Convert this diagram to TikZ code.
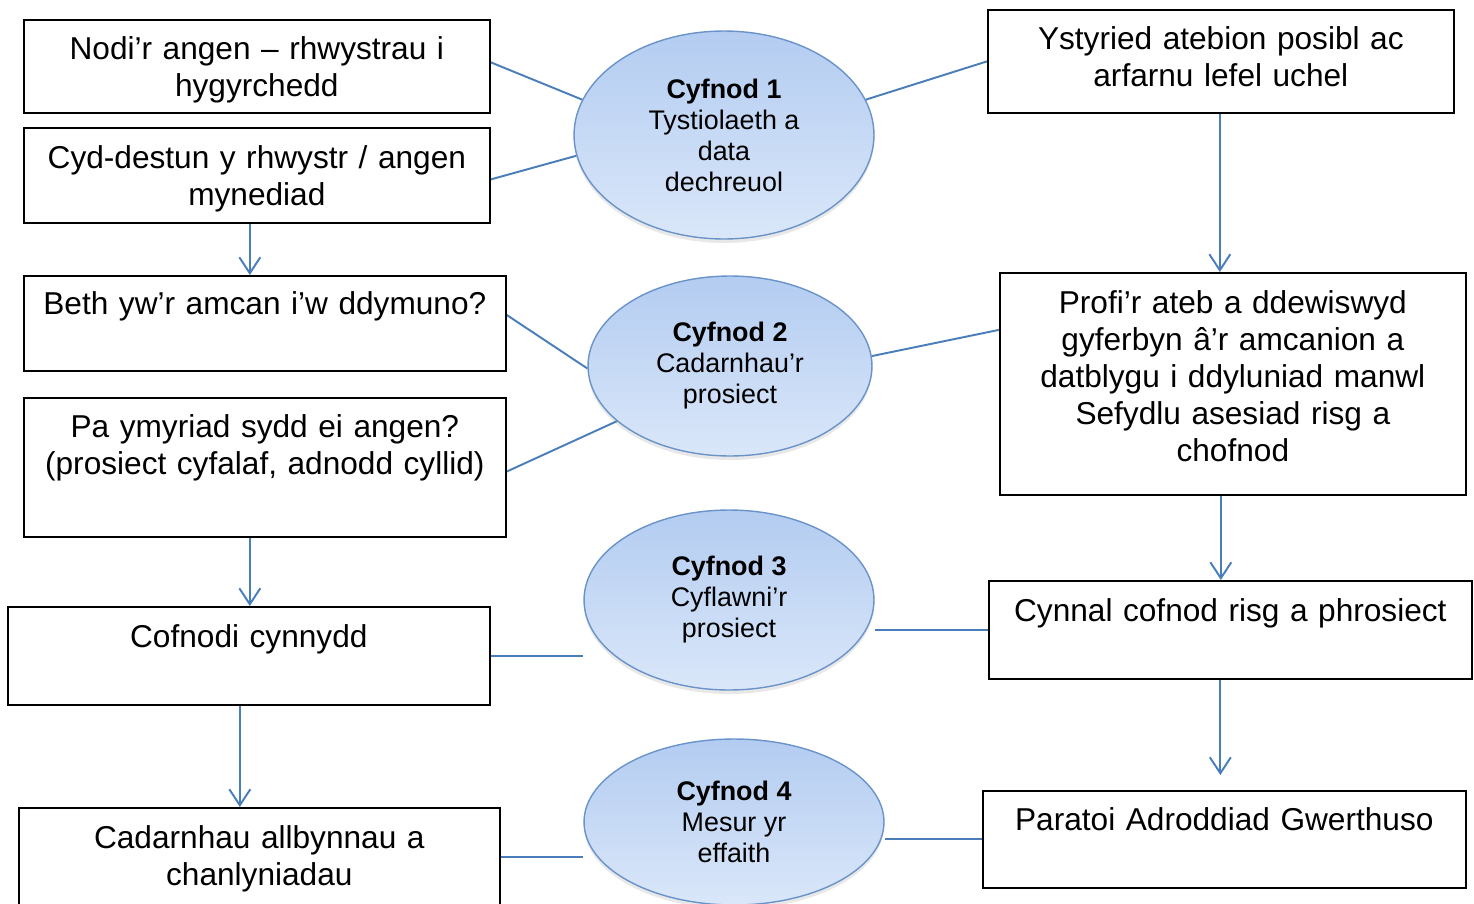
\documentclass[tikz,border=0pt]{standalone}
\usepackage{fontspec}
\setmainfont{Liberation Sans}
\usetikzlibrary{positioning,shapes.geometric,arrows.meta,shadows,backgrounds}
\definecolor{linkblue}{HTML}{4A7EBB}
\definecolor{ovalline}{HTML}{6A93C9}
\definecolor{ovaltop}{HTML}{B3CCF1}
\definecolor{ovalbot}{HTML}{DAE7F9}

\begin{document}
\begin{tikzpicture}[x=0.02cm, y=-0.02cm,
    box/.style={draw, line width=1pt, inner sep=0pt, anchor=north west, align=center, font=\fontsize{18}{21.06}\selectfont},
    stage/.style={ellipse, draw=ovalline, line width=0.8pt, top color=ovaltop, bottom color=ovalbot, inner sep=0pt, align=center, font=\fontsize{15.3}{17.64}\selectfont, drop shadow={opacity=0.18, shadow xshift=0pt, shadow yshift=-0.08cm}},
    link/.style={linkblue, line width=1.1pt},
    flow/.style={link, -{Straight Barb[length=0.32cm, width=0.42cm]}}]

        \useasboundingbox (0,0) rectangle (1474,903);

        %Boxes left
        \node[box, text width=9.32cm, text height=0.80cm, text depth=1.06cm] (n1) at (23,19) {Nodi’r angen – rhwystrau i\\hygyrchedd};
        \node[box, text width=9.32cm, text height=0.82cm, text depth=1.08cm] (n2) at (23,127) {Cyd-destun y rhwystr / angen\\mynediad};
        \node[box, text width=9.64cm, text height=0.78cm, text depth=1.12cm] (n3) at (23,275) {Beth yw’r amcan i’w ddymuno?};
        \node[box, text width=9.64cm, text height=0.80cm, text depth=1.98cm] (n4) at (23,397) {Pa ymyriad sydd ei angen?\\(prosiect cyfalaf, adnodd cyllid)};
        \node[box, text width=9.64cm, text height=0.82cm, text depth=1.14cm] (n5) at (7,606) {Cofnodi cynnydd};
        \node[box, text width=9.62cm, text height=0.82cm, text depth=1.14cm] (n6) at (18,807) {Cadarnhau allbynnau a\\chanlyniadau};

        %Boxes right
        \node[box, text width=9.32cm, text height=0.80cm, text depth=1.26cm] (n7) at (987,9) {Ystyried atebion posibl ac\\arfarnu lefel uchel};
        \node[box, text width=9.32cm, text height=0.82cm, text depth=3.62cm] (n8) at (999,272) {Profi’r ateb a ddewiswyd\\gyferbyn â’r amcanion a\\datblygu i ddyluniad manwl\\Sefydlu asesiad risg a\\chofnod};
        \node[box, text width=9.66cm, text height=0.82cm, text depth=1.14cm] (n9) at (988,580) {Cynnal cofnod risg a phrosiect};
        \node[box, text width=9.66cm, text height=0.80cm, text depth=1.14cm] (n10) at (982,790) {Paratoi Adroddiad Gwerthuso};

        %Stages
        \node[stage, minimum width=6.00cm, minimum height=4.16cm] (e1) at (724,135) {\textbf{Cyfnod 1}\\Tystiolaeth a\\data\\dechreuol};
        \node[stage, minimum width=5.68cm, minimum height=3.60cm] (e2) at (730,366) {\textbf{Cyfnod 2}\\Cadarnhau’r\\prosiect};
        \node[stage, minimum width=5.80cm, minimum height=3.60cm] (e3) at (729,600) {\textbf{Cyfnod 3}\\Cyflawni’r\\prosiect};
        \node[stage, minimum width=6.00cm, minimum height=3.32cm] (e4) at (734,822) {\textbf{Cyfnod 4}\\Mesur yr\\effaith};

        %Lines
        \begin{scope}[on background layer]
        \draw[link] (n1.1) -- (e1.166);
        \draw[link] (n2.-1) -- (e1.188);
        \draw[link] (e1.14) -- (n7.west);
        \draw[link] (n3.2) -- (e2.181);
        \draw[link] (n4.-1) -- (e2.206);
        \draw[link] (e2.4) -- (n8.167);
        \draw[link] (n5.east) -- (n5.east -| e3.west);
        \draw[link] (n9.west) -- (n9.west -| e3.east);
        \draw[link] (n6.east) -- (n6.east -| e4.west);
        \draw[link] (n10.west) -- (n10.west -| e4.east);
        \end{scope}

        %Arrows
        \path (n2.south) ++(-7,0) coordinate (a1);
        \path (n4.south) ++(-15,0) coordinate (a2);
        \path (n5.south) ++(-9,0) coordinate (a3);
        \path (n7.south) ++(-1,0) coordinate (a4);
        \path (n8.south) ++(-12,0) coordinate (a5);
        \path (n9.south) ++(-10,0) coordinate (a6);
        \draw[flow] (a1) -- (a1 |- n3.north);
        \draw[flow] (a2) -- (a2 |- n5.north);
        \draw[flow] (a3) -- (a3 |- n6.north);
        \draw[flow] (a4) -- (a4 |- n8.north);
        \draw[flow] (a5) -- (a5 |- n9.north);
        \draw[flow, shorten >=0.3cm] (a6) -- (a6 |- n10.north);

    \end{tikzpicture}
\end{document}
